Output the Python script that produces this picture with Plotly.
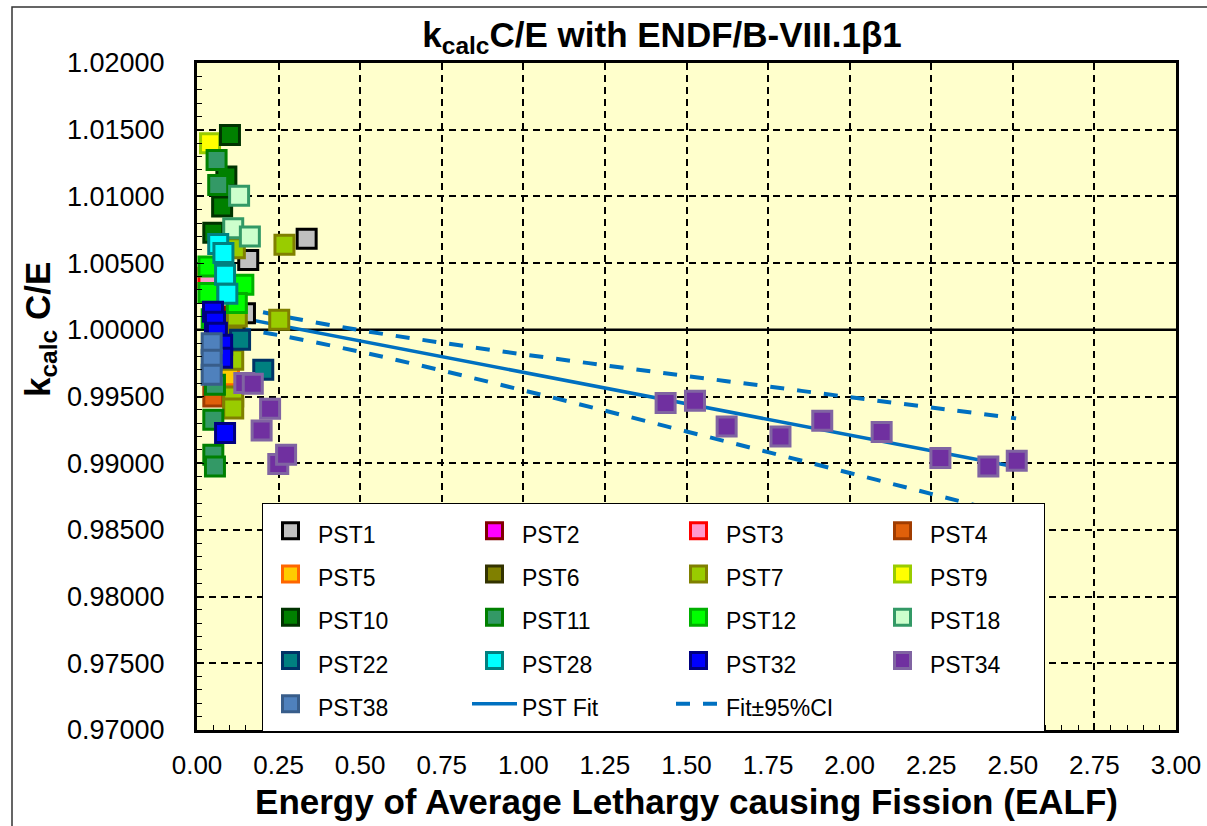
import plotly.graph_objects as go

# ---- measured C/E values by benchmark series (EALF in eV) ----
pst1_x = [0.336, 0.157, 0.147]
pst1_y = [1.00682, 1.00524, 1.00125]
pst2_x = [0.116]
pst2_y = [1.00100]
pst3_x = [0.035]
pst3_y = [1.00390]
pst4_x = [0.050]
pst4_y = [0.99500]
pst5_x = [0.098]
pst5_y = [0.99660]
pst6_x = [0.115]
pst6_y = [1.00020]
pst7_x = [0.268, 0.252, 0.116, 0.122, 0.111, 0.111, 0.111]
pst7_y = [1.00637, 1.00075, 1.00612, 1.00100, 0.99775, 0.99500, 0.99410]
pst9_x = [0.040]
pst9_y = [1.01399]
pst10_x = [0.101, 0.090, 0.077, 0.050]
pst10_y = [1.01461, 1.01149, 1.00924, 1.00727]
pst11_x = [0.060, 0.065, 0.055, 0.050, 0.050, 0.055]
pst11_y = [1.01273, 1.01086, 0.99588, 0.99326, 0.99064, 0.98976]
pst12_x = [0.035, 0.035, 0.142, 0.122, 0.045]
pst12_y = [1.00474, 1.00275, 1.00337, 1.00200, 1.00080]
pst18_x = [0.129, 0.111, 0.162]
pst18_y = [1.01004, 1.00762, 1.00699]
pst22_x = [0.132, 0.203]
pst22_y = [0.99925, 0.99700]
pst28_x = [0.065, 0.081, 0.086, 0.093]
pst28_y = [1.00644, 1.00575, 1.00412, 1.00270]
pst32_x = [0.049, 0.055, 0.061, 0.077, 0.077, 0.086]
pst32_y = [1.00135, 1.00060, 0.99978, 0.99888, 0.99790, 0.99226]
pst34_x = [1.436, 1.526, 1.623, 1.788, 1.916, 2.098, 2.278, 2.425, 2.512,
           0.145, 0.171, 0.224, 0.198, 0.249, 0.273]
pst34_y = [0.99451, 0.99468, 0.99276, 0.99201, 0.99318, 0.99234, 0.99039, 0.98976, 0.99019,
           0.99601, 0.99596, 0.99408, 0.99246, 0.98994, 0.99064]
pst38_x = [0.045, 0.045, 0.045]
pst38_y = [0.99900, 0.99775, 0.99663]

# ---- linear fit and 95% confidence band ----
fit_x = [0.035, 2.51]
fit_y = [1.00135, 0.98971]
ci_x = [0.04, 0.25, 0.50, 0.75, 1.00, 1.25, 1.50, 1.75, 2.00, 2.25, 2.51]
ci_upper = [1.00217, 1.00108, 0.99997, 0.99903, 0.99816, 0.99734, 0.99654, 0.99575, 0.99495, 0.99418, 0.99336]
ci_lower = [1.00047, 0.99960, 0.99835, 0.99695, 0.99546, 0.99394, 0.99238, 0.99083, 0.98927, 0.98770, 0.98606]

ref_x = [0.0, 3.0]
ref_y = [1.0, 1.0]

x_ticks = [0.0, 0.25, 0.5, 0.75, 1.0, 1.25, 1.5, 1.75, 2.0, 2.25, 2.5, 2.75, 3.0]
y_ticks = [0.970, 0.975, 0.980, 0.985, 0.990, 0.995, 1.000, 1.005, 1.010, 1.015, 1.020]

series = [
    ("PST1", pst1_x, pst1_y, "#C0C0C0", "#000000"),
    ("PST2", pst2_x, pst2_y, "#FF00FF", "#800000"),
    ("PST3", pst3_x, pst3_y, "#FF99CC", "#FF0000"),
    ("PST4", pst4_x, pst4_y, "#E0600A", "#A03C00"),
    ("PST5", pst5_x, pst5_y, "#FFCC00", "#FF6600"),
    ("PST6", pst6_x, pst6_y, "#808000", "#333300"),
    ("PST7", pst7_x, pst7_y, "#99CC00", "#808000"),
    ("PST9", pst9_x, pst9_y, "#FFFF00", "#99CC00"),
    ("PST10", pst10_x, pst10_y, "#008000", "#003300"),
    ("PST11", pst11_x, pst11_y, "#339966", "#008000"),
    ("PST12", pst12_x, pst12_y, "#00FF00", "#00B000"),
    ("PST18", pst18_x, pst18_y, "#CCFFCC", "#339966"),
    ("PST22", pst22_x, pst22_y, "#008080", "#003366"),
    ("PST28", pst28_x, pst28_y, "#00FFFF", "#008080"),
    ("PST32", pst32_x, pst32_y, "#0000FF", "#000080"),
    ("PST34", pst34_x, pst34_y, "#7030A0", "#8064A2"),
    ("PST38", pst38_x, pst38_y, "#4F81BD", "#385D8A"),
]
# entries that close each legend row get a narrower slot
last_column = {"PST4", "PST9", "PST18", "PST34"}

FONT = "Liberation Sans, Arial, sans-serif"
BLUE = "#0070C0"


def label(text):
    return f'<span style="font-size:23px">{text}</span>'


fig = go.Figure()

# reference line at C/E = 1
fig.add_trace(go.Scatter(x=ref_x, y=ref_y, mode="lines", showlegend=False,
                         line=dict(color="black", width=2.5), hoverinfo="skip"))

# fit and confidence band (drawn beneath the markers)
fig.add_trace(go.Scatter(x=fit_x, y=fit_y, mode="lines", name=label("PST Fit"),
                         legendrank=1100, line=dict(color=BLUE, width=3.5)))
fig.add_trace(go.Scatter(x=ci_x, y=ci_upper, mode="lines", name=label("Fit±95%CI"),
                         legendgroup="ci", legendrank=1200,
                         line=dict(color=BLUE, width=4, dash="14px,13px", shape="spline")))
fig.add_trace(go.Scatter(x=ci_x, y=ci_lower, mode="lines", name="Fit±95%CI",
                         legendgroup="ci", showlegend=False,
                         line=dict(color=BLUE, width=4, dash="14px,13px", shape="spline")))

for i, (name, xs, ys, fill, edge) in enumerate(series):
    fig.add_trace(go.Scatter(
        x=xs, y=ys, mode="markers", name=label(name), legendrank=100 + i,
        legendwidth=109 if name in last_column else None,
        marker=dict(symbol="square", size=19, color=fill,
                    line=dict(color=edge, width=3)),
    ))

grid = dict(showgrid=True, gridcolor="black", gridwidth=1.8, griddash="7px,5px")

fig.update_xaxes(
    range=[0, 3.0], tickvals=x_ticks, tickformat=".2f",
    showline=True, linecolor="black", linewidth=3, mirror=True,
    ticks="inside", ticklen=7, tickwidth=1.2, tickcolor="black",
    minor=dict(dtick=0.05, ticks="inside", ticklen=5, tickwidth=1, tickcolor="black", showgrid=False),
    tickfont=dict(family=FONT, size=26, color="black"),
    ticklabelstandoff=10,
    title=dict(text="<b>Energy of Average Lethargy causing Fission (EALF)</b>",
               font=dict(family=FONT, size=35, color="black"), standoff=11),
    zeroline=False, **grid,
)
fig.update_yaxes(
    range=[0.970, 1.020], tickvals=y_ticks, tickformat=".5f",
    showline=True, linecolor="black", linewidth=3, mirror=True,
    ticks="inside", ticklen=7, tickwidth=1.2, tickcolor="black",
    minor=dict(dtick=0.001, ticks="inside", ticklen=5, tickwidth=1, tickcolor="black", showgrid=False),
    tickfont=dict(family=FONT, size=27, color="black"),
    ticklabelstandoff=24,
    zeroline=False, **grid,
)

fig.update_layout(
    width=1207, height=826,
    margin=dict(l=197, r=31, t=63, b=96, autoexpand=False),
    paper_bgcolor="white", plot_bgcolor="#FFFFCC",
    font=dict(family=FONT, color="black"),
    title=dict(text="<b>k<sub>calc</sub>C/E with ENDF/B-VIII.1β1</b>",
               font=dict(family=FONT, size=35, color="black"),
               x=0.5485, xanchor="center", xref="container",
               y=0.958, yanchor="middle", yref="container"),
    legend=dict(
        orientation="h", x=(262 - 197) / 979, y=(730 - 503) / 667,
        xanchor="left", yanchor="top",
        bgcolor="white", bordercolor="black", borderwidth=1,
        font=dict(family=FONT, size=31, color="black"),
        itemwidth=45, entrywidth=144, entrywidthmode="pixels",
        traceorder="normal",
    ),
    showlegend=True,
    # y-axis caption sits level with the C/E = 1 line
    annotations=[dict(text="<b>k<sub>calc</sub> C/E</b>", textangle=-90,
                      xref="paper", yref="paper",
                      x=(40 - 197) / 979, y=(730 - 330) / 667,
                      xanchor="center", yanchor="middle", showarrow=False,
                      font=dict(family=FONT, size=35, color="black"))],
    shapes=[dict(type="rect", xref="paper", yref="paper",
                 x0=(12 - 197) / 979, x1=(1220 - 197) / 979,
                 y0=(730 - 840) / 667, y1=(730 - 7) / 667,
                 line=dict(color="#333333", width=1.5), fillcolor="rgba(0,0,0,0)",
                 layer="below")],
)

fig.write_html("out.html")
